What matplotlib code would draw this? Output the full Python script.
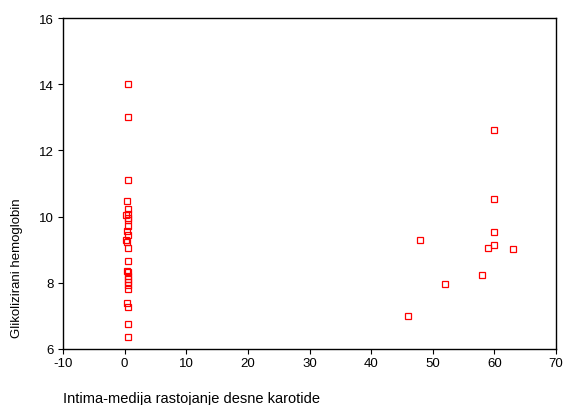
import matplotlib
matplotlib.use("Agg")
import matplotlib.pyplot as plt

# left cluster (near zero)
x_left = [0.6, 0.6, 0.6, 0.4, 0.6, 0.5, 0.3, 0.6, 0.5, 0.6, 0.4, 0.6, 0.3, 0.4,
          0.6, 0.6, 0.4, 0.6, 0.6, 0.6, 0.6, 0.6, 0.6, 0.4, 0.6, 0.6, 0.6]
y_left = [14.0, 13.0, 11.1, 10.47, 10.24, 10.09, 10.04, 9.96, 9.89, 9.73, 9.58,
          9.45, 9.28, 9.23, 9.05, 8.67, 8.37, 8.33, 8.22, 8.12, 8.02, 7.92, 7.80,
          7.39, 7.27, 6.76, 6.35]
# right cluster
x_right = [60, 60, 60, 60, 59, 63, 48, 58, 52, 46]
y_right = [12.62, 10.53, 9.54, 9.15, 9.05, 9.02, 9.28, 8.25, 7.96, 7.0]

xs = x_left + x_right
ys = y_left + y_right

plt.rcParams['font.family'] = ['Liberation Sans', 'DejaVu Sans']
plt.rcParams['axes.unicode_minus'] = False
fig = plt.figure(figsize=(5.64, 4.06), dpi=100)
ax = fig.add_axes([63/564, 1 - 350/406, (556 - 63)/564, (350 - 19)/406])

ax.plot(xs, ys, linestyle='none', marker='s', markersize=4.2,
        markerfacecolor='none', markeredgecolor='#ff0000', markeredgewidth=0.9)

ax.set_xlim(-10, 70)
ax.set_ylim(6, 16)
ax.set_xticks(range(-10, 71, 10))
ax.set_yticks(range(6, 17, 2))
ax.tick_params(direction='out', length=3.5, width=0.8, labelsize=9.5, pad=2)
ax.tick_params(axis='y', pad=3)
for s in ax.spines.values():
    s.set_linewidth(1.0)

fig.text(63/564, 1 - 399/406, "Intima-medija rastojanje desne karotide",
         ha='left', va='center', fontsize=10.5)
fig.text(17/564, 1 - 338/406, "Glikolizirani hemoglobin", rotation=90,
         ha='center', va='bottom', fontsize=9.5)

fig.savefig("out.png", dpi=100)
